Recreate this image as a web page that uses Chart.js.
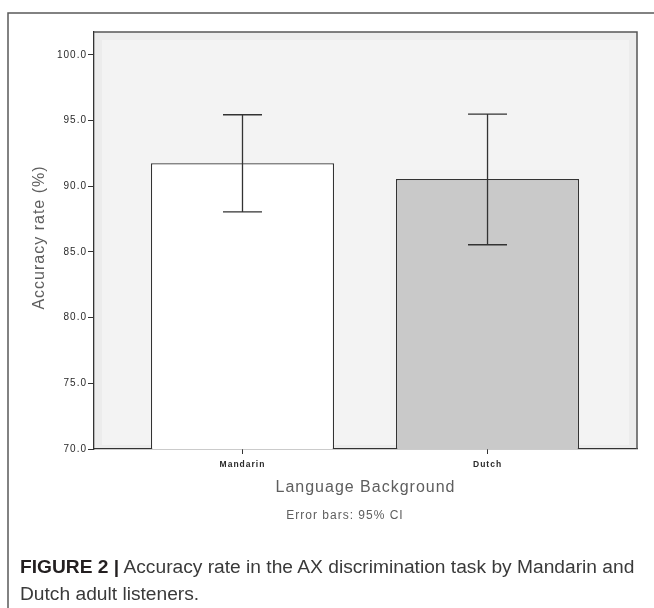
<!DOCTYPE html>
<html>
<head>
<meta charset="utf-8">
<script src="https://cdn.jsdelivr.net/npm/chart.js@4/dist/chart.umd.min.js"></script>
<style>
  html, body { margin: 0; padding: 0; background: #fff; }
  #wrap { position: relative; width: 654px; height: 608px; overflow: hidden; }
  #chart { position: absolute; left: 0; top: 0; }
  #caption {
    position: absolute; left: 20px; top: 553px; width: 630px;
    font-family: "Liberation Sans", Arial, sans-serif; font-size: 19.2px;
    line-height: 27px; color: #3a3a3a;
  }
  #caption b { color: #231f20; }
</style>
</head>
<body>
<div id="wrap">
  <canvas id="chart" width="654" height="608"></canvas>
  <div id="caption"><b>FIGURE 2 |</b> Accuracy rate in the AX discrimination task by Mandarin and Dutch adult listeners.</div>
</div>
<script>
// Language groups and their mean accuracy with 95% confidence limits
const categories = ['Mandarin', 'Dutch'];
const meanAccuracy = [91.75, 90.55];
const ciLower = [88.05, 85.55];
const ciUpper = [95.45, 95.5];
const yTicks = [70, 75, 80, 85, 90, 95, 100];

const barFills = ['#ffffff', '#c9c9c9'];
const textFont = '"Liberation Sans", Arial, sans-serif';

// Bars sit at positions 1, 2 on a numeric x scale so the margins can be set freely
const points = categories.map((c, i) => ({ x: i + 1, y: meanAccuracy[i] }));

const spacingPlugin = {
  id: 'spacing',
  beforeUpdate(chart) { chart.ctx.letterSpacing = '1px'; },
  beforeDraw(chart) { chart.ctx.letterSpacing = '1px'; }
};

const backdropPlugin = {
  id: 'backdrop',
  beforeDraw(chart) {
    const { ctx, chartArea: a } = chart;
    ctx.save();
    // outer figure frame
    ctx.strokeStyle = '#5a5a5a';
    ctx.lineWidth = 1.5;
    ctx.beginPath();
    ctx.moveTo(8, 608);
    ctx.lineTo(8, 13);
    ctx.lineTo(654, 13);
    ctx.stroke();
    // plot panel
    ctx.fillStyle = '#ececec';
    ctx.fillRect(a.left, a.top, a.right - a.left, a.bottom - a.top);
    ctx.fillStyle = '#f3f3f3';
    ctx.fillRect(a.left + 8, a.top + 8, a.right - a.left - 16, a.bottom - a.top - 12);
    ctx.restore();
  },
  afterDraw(chart) {
    const { ctx, chartArea: a } = chart;
    ctx.save();
    // top and right edges of the panel
    ctx.strokeStyle = '#555';
    ctx.lineWidth = 1.5;
    ctx.beginPath();
    ctx.moveTo(a.left, a.top);
    ctx.lineTo(a.right, a.top);
    ctx.lineTo(a.right, a.bottom);
    ctx.stroke();
    // axis titles and note
    ctx.letterSpacing = '1px';
    ctx.fillStyle = '#5e5e5e';
    ctx.textAlign = 'center';
    ctx.textBaseline = 'middle';
    ctx.font = '16px ' + textFont;
    ctx.fillText('Language Background', (a.left + a.right) / 2, 488);
    ctx.font = '12px ' + textFont;
    ctx.fillText('Error bars: 95% CI', 345, 516);
    ctx.translate(40, (a.top + a.bottom) / 2 - 3);
    ctx.rotate(-Math.PI / 2);
    ctx.font = '16px ' + textFont;
    ctx.fillText('Accuracy rate (%)', 0, 0);
    ctx.restore();
  }
};

const errorBarPlugin = {
  id: 'errorBars',
  afterDatasetsDraw(chart) {
    const { ctx } = chart;
    const y = chart.scales.y;
    const meta = chart.getDatasetMeta(0);
    const cap = 19.5;
    ctx.save();
    ctx.strokeStyle = '#333';
    ctx.lineWidth = 1.3;
    meta.data.forEach((bar, i) => {
      const hi = y.getPixelForValue(ciUpper[i]);
      const lo = y.getPixelForValue(ciLower[i]);
      ctx.beginPath();
      ctx.moveTo(bar.x, hi);
      ctx.lineTo(bar.x, lo);
      ctx.moveTo(bar.x - cap, hi);
      ctx.lineTo(bar.x + cap, hi);
      ctx.moveTo(bar.x - cap, lo);
      ctx.lineTo(bar.x + cap, lo);
      ctx.stroke();
    });
    ctx.restore();
  }
};

new Chart(document.getElementById('chart'), {
  type: 'bar',
  data: {
    datasets: [{
      data: points,
      backgroundColor: barFills,
      borderColor: '#333',
      borderWidth: 1.2,
      categoryPercentage: 1,
      barPercentage: 0.747
    }]
  },
  options: {
    responsive: false,
    animation: false,
    events: [],
    layout: { padding: { top: 32, right: 17, left: 0, bottom: 129 } },
    plugins: { legend: { display: false }, tooltip: { enabled: false } },
    scales: {
      x: {
        type: 'linear',
        offset: false,
        min: 0.394,
        max: 2.61,
        afterBuildTicks(scale) { scale.ticks = categories.map((c, i) => ({ value: i + 1 })); },
        afterFit(scale) { scale.height = 30; },
        grid: { offset: false, drawOnChartArea: false, drawTicks: true, tickLength: 5, color: '#333' },
        border: { color: '#333', width: 1.3 },
        ticks: {
          autoSkip: false,
          maxRotation: 0,
          padding: 6,
          color: '#2a2a2a',
          font: { family: textFont, size: 8.5, weight: 'bold' },
          callback: (v) => categories[Math.round(v) - 1] || ''
        }
      },
      y: {
        min: 70,
        max: 101.75,
        afterBuildTicks(scale) { scale.ticks = yTicks.map(v => ({ value: v })); },
        afterFit(scale) { scale.width = 94; },
        grid: { drawOnChartArea: false, drawTicks: true, tickLength: 6, color: '#333' },
        border: { color: '#333', width: 1.3 },
        ticks: {
          padding: 1,
          color: '#2a2a2a',
          font: { family: textFont, size: 10 },
          callback: (v) => Number(v).toFixed(1)
        }
      }
    }
  },
  plugins: [spacingPlugin, backdropPlugin, errorBarPlugin]
});
</script>
</body>
</html>
